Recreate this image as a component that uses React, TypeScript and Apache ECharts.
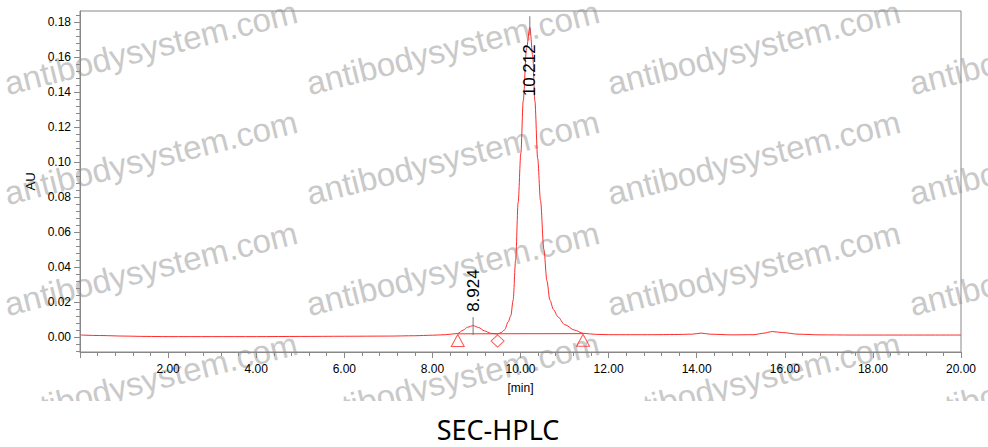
import React, { useEffect, useRef } from 'react';
import * as echarts from 'echarts';

// ---- Data ----
const traceTime = [
  0.02, 0.5, 1.0, 1.5, 2.0, 3.0, 4.0, 5.0, 6.0, 7.0, 7.6, 8.0, 8.3, 8.575, 8.7, 8.8, 8.924,
  9.05, 9.18, 9.32, 9.48, 9.56, 9.64, 9.72, 9.78, 9.833, 9.89, 9.947, 10.008, 10.062, 10.137,
  10.212, 10.28, 10.326, 10.39, 10.454, 10.53, 10.6, 10.667, 10.75, 10.85, 11.0, 11.23, 11.42,
  11.7, 12.0, 12.5, 13.0, 13.5, 13.9, 14.1, 14.3, 14.8, 15.3, 15.5, 15.72, 15.95, 16.3, 16.8,
  17.5, 18.5, 20.0,
];
const traceAU = [
  0.0010, 0.0007, 0.0004, 0.0002, 0.0001, 0.0001, 0.0001, 0.0002, 0.0003, 0.0004, 0.0006, 0.0009,
  0.0012, 0.0019, 0.0038, 0.0055, 0.0064, 0.0053, 0.0034, 0.0020, 0.0016, 0.0024, 0.0040, 0.0085,
  0.0120, 0.0210, 0.0440, 0.0770, 0.1050, 0.1350, 0.1650, 0.1770, 0.1600, 0.1350, 0.1020, 0.0780,
  0.0500, 0.0320, 0.0210, 0.0155, 0.0114, 0.0070, 0.0038, 0.0020, 0.0014, 0.0012, 0.0012, 0.0012,
  0.0013, 0.0015, 0.0021, 0.0015, 0.0011, 0.0012, 0.0020, 0.0030, 0.0024, 0.0015, 0.0011, 0.0010,
  0.0010, 0.0010,
];

const peakTimes = [8.924, 10.212];
const peakAU = [0.0064, 0.177];
const peakLabels = ['8.924', '10.212'];

const markerTimes = [8.575, 9.48, 11.42];
const markerAU = [0.0019, 0.0016, 0.0020];
const markerSymbols = ['triangle', 'diamond', 'triangle'];

const baselineTimes = [8.575, 11.42];
const baselineAU = [0.0017, 0.0018];

const yTickValues = [0, 0.02, 0.04, 0.06, 0.08, 0.1, 0.12, 0.14, 0.16, 0.18];
const xTickValues = [2, 4, 6, 8, 10, 12, 14, 16, 18, 20];

const yMin = -0.0087;
const yMax = 0.1863;
const xMin = 0;
const xMax = 20;

const titleText = 'SEC-HPLC';
const watermarkText = 'antibodysystem.com';

// ---- Styling ----
const FONT = "'Liberation Sans', Arial, sans-serif";
const AXIS = '#888888';
const RED = '#ff2a2a';

// peak annotation layout (pixels relative to the apex)
const peakLayout = [
  { textDy: -35, lineTop: -8.5, lineBottom: 9.5 },
  { textDy: 43, lineTop: -11, lineBottom: 8 },
];

export default function App() {
  const ref = useRef<HTMLDivElement>(null);

  useEffect(() => {
    document.body.style.margin = '0';
    if (!ref.current) return;
    const chart = echarts.init(ref.current, undefined, { renderer: 'svg' });

    const yMinor: number[] = [];
    for (let k = -2; k <= 46; k++) {
      if (k % 5 !== 0) yMinor.push(+(k * 0.004).toFixed(4));
    }

    const watermarks: any[] = [];
    const rowsY = [100, 210, 321, 432];
    const colsX = [9, 311, 612, 914];
    rowsY.forEach((y) =>
      colsX.forEach((x) =>
        watermarks.push({
          type: 'text',
          x,
          y,
          rotation: (14 * Math.PI) / 180,
          z: -10,
          silent: true,
          style: {
            text: watermarkText,
            font: `33px ${FONT}`,
            fill: '#c9c9c9',
            textAlign: 'left',
            textVerticalAlign: 'bottom',
          },
        })
      )
    );

    const option: any = {
      animation: false,
      backgroundColor: '#ffffff',
      grid: {
        left: 80,
        right: 27,
        top: 11,
        bottom: 95,
        show: true,
        borderColor: AXIS,
        borderWidth: 1,
        backgroundColor: 'transparent',
      },
      xAxis: {
        type: 'value',
        min: xMin,
        max: xMax,
        interval: 2,
        name: '[min]',
        nameLocation: 'middle',
        nameGap: 30,
        nameTextStyle: { fontFamily: FONT, fontSize: 12, color: '#000' },
        axisLine: { show: true, onZero: false, lineStyle: { color: AXIS } },
        axisTick: { show: true, length: 6, lineStyle: { color: AXIS } },
        minorTick: { show: true, splitNumber: 5, length: 4, lineStyle: { color: AXIS } },
        axisLabel: {
          customValues: xTickValues,
          formatter: (v: number) => v.toFixed(2),
          margin: 11,
          fontFamily: FONT,
          fontSize: 12,
          color: '#000',
        },
        splitLine: { show: false },
      },
      yAxis: [
        {
          type: 'value',
          min: yMin,
          max: yMax,
          name: 'AU',
          nameLocation: 'middle',
          nameGap: 40,
          nameTextStyle: { fontFamily: FONT, fontSize: 13, color: '#000' },
          axisLine: { show: true, onZero: false, lineStyle: { color: AXIS } },
          axisTick: { show: true, length: 6, customValues: yTickValues, lineStyle: { color: AXIS } },
          axisLabel: {
            customValues: yTickValues,
            formatter: (v: number) => v.toFixed(2),
            margin: 9,
            fontFamily: FONT,
            fontSize: 12,
            color: '#000',
          },
          splitLine: { show: false },
        },
        {
          type: 'value',
          min: yMin,
          max: yMax,
          position: 'left',
          axisLine: { show: false, onZero: false },
          axisTick: { show: true, length: 4, customValues: yMinor, lineStyle: { color: AXIS } },
          axisLabel: { show: false },
          splitLine: { show: false },
        },
      ],
      graphic: [
        ...watermarks,
        {
          type: 'rect',
          z: -5,
          silent: true,
          shape: { x: 0, y: 401, width: 988, height: 46 },
          style: { fill: '#ffffff' },
        },
        {
          type: 'text',
          x: 498,
          y: 429,
          z: 10,
          style: {
            text: titleText,
            font: "27px 'Noto Sans', 'Open Sans', sans-serif",
            fill: '#000',
            textAlign: 'center',
            textVerticalAlign: 'middle',
          },
        },
      ],
      series: [
        {
          type: 'line',
          name: 'trace',
          xAxisIndex: 0,
          yAxisIndex: 0,
          data: traceTime.map((t, i) => [t, traceAU[i]]),
          showSymbol: false,
          symbol: 'none',
          smooth: 0.3,
          smoothMonotone: 'x',
          lineStyle: { color: RED, width: 1 },
          z: 3,
        },
        {
          type: 'line',
          name: 'baseline',
          yAxisIndex: 0,
          data: baselineTimes.map((t, i) => [t, baselineAU[i]]),
          symbol: 'none',
          lineStyle: { color: RED, width: 1 },
          z: 3,
        },
        {
          type: 'scatter',
          name: 'markers',
          yAxisIndex: 0,
          data: markerTimes.map((t, i) => ({
            value: [t, markerAU[i]],
            symbol: markerSymbols[i],
          })),
          symbolSize: [13, 12],
          symbolOffset: [0, 7],
          itemStyle: { color: 'rgba(255,255,255,0)', borderColor: RED, borderWidth: 1 },
          z: 4,
        },
        {
          type: 'custom',
          name: 'peaks',
          yAxisIndex: 0,
          data: peakTimes.map((t, i) => [t, peakAU[i], i]),
          renderItem: (params: any, api: any) => {
            const p = api.coord([api.value(0), api.value(1)]);
            const idx = api.value(2);
            const lay = peakLayout[idx];
            return {
              type: 'group',
              children: [
                {
                  type: 'line',
                  shape: { x1: p[0], y1: p[1] + lay.lineTop, x2: p[0], y2: p[1] + lay.lineBottom },
                  style: { stroke: '#777777', lineWidth: 1 },
                },
                {
                  type: 'text',
                  x: p[0],
                  y: p[1] + lay.textDy,
                  rotation: Math.PI / 2,
                  style: {
                    text: peakLabels[idx],
                    font: `17px ${FONT}`,
                    fill: '#000',
                    textAlign: 'center',
                    textVerticalAlign: 'middle',
                  },
                },
              ],
            };
          },
          z: 5,
        },
      ],
    };

    chart.setOption(option);
    return () => chart.dispose();
  }, []);

  return <div ref={ref} style={{ width: 988, height: 447 }} />;
}
